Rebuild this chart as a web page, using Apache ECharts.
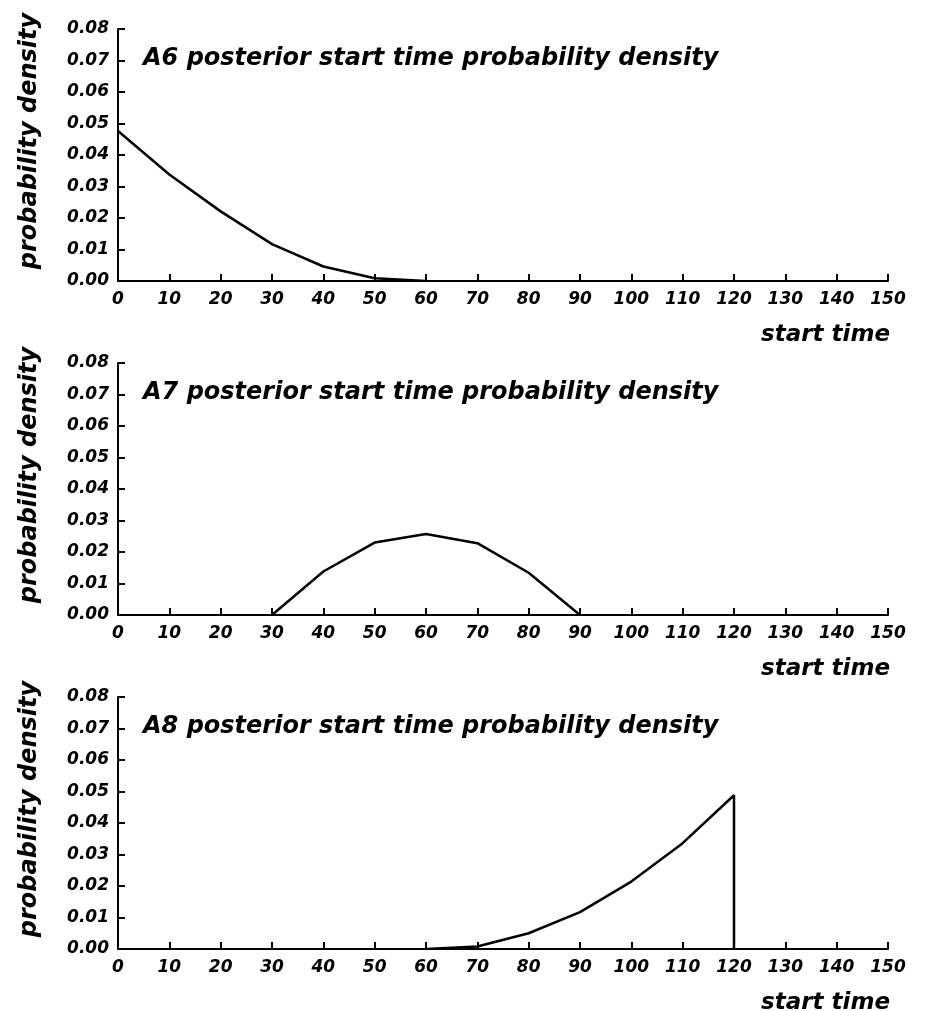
<!DOCTYPE html>
<html><head><meta charset="utf-8">
<script src="https://cdn.jsdelivr.net/npm/echarts@6/dist/echarts.min.js"></script>
<style>html,body{margin:0;padding:0;background:#fff}#c{width:927px;height:1011px}</style>
</head><body><div id="c"></div>
<script>
// Data
const titles = ['A6 posterior start time probability density','A7 posterior start time probability density','A8 posterior start time probability density'];
const a6x = [0, 10, 20, 30, 40, 50, 60];
const a6y = [0.0476, 0.0338, 0.0221, 0.0117, 0.0046, 0.0009, 0.0];
const a7x = [30, 40, 50, 60, 70, 80, 90];
const a7y = [0.0, 0.0138, 0.0230, 0.0257, 0.0228, 0.0134, 0.0];
const a8x = [60, 70, 80, 90, 100, 110, 120, 120];
const a8y = [0.0, 0.0008, 0.0050, 0.0117, 0.0214, 0.0336, 0.0488, 0.0];
const yTicks = ['0.00','0.01','0.02','0.03','0.04','0.05','0.06','0.07','0.08'];
const xLabel = 'start time';
const yLabel = 'probability density';

const font = "'DejaVu Sans', Verdana, sans-serif";
const tops = [29, 363, 697];
const H = 252;
const seriesX = [a6x, a7x, a8x];
const seriesY = [a6y, a7y, a8y];

const grids = [], xAxes = [], yAxes = [], series = [], titleArr = [], graphics = [];
tops.forEach((t, i) => {
  grids.push({left: 118, top: t, width: 770, height: H});
  xAxes.push({
    type: 'value', gridIndex: i, min: 0, max: 150, interval: 10,
    axisLine: {show: true, onZero: false, lineStyle: {color: '#000', width: 2}},
    axisTick: {show: true, inside: true, length: 7, lineStyle: {color: '#000', width: 2}},
    axisLabel: {color: '#000', fontFamily: font, fontSize: 17, fontWeight: 'bold', fontStyle: 'italic', margin: 10},
    splitLine: {show: false}
  });
  yAxes.push({
    type: 'value', gridIndex: i, min: 0, max: 0.08, interval: 0.01,
    axisLine: {show: true, lineStyle: {color: '#000', width: 2}},
    axisTick: {show: true, inside: true, length: 7, lineStyle: {color: '#000', width: 2}},
    axisLabel: {color: '#000', fontFamily: font, fontSize: 17, fontWeight: 'bold', fontStyle: 'italic', margin: 9,
      formatter: (v) => yTicks[Math.round(v * 100)]},
    splitLine: {show: false}
  });
  series.push({
    type: 'line', xAxisIndex: i, yAxisIndex: i, symbol: 'none',
    lineStyle: {color: '#000', width: 2.5},
    data: seriesX[i].map((x, k) => [x, seriesY[i][k]]),
    animation: false
  });
  titleArr.push({
    text: titles[i], left: 138, top: t + 13,
    textStyle: {color: '#000', fontFamily: font, fontSize: 24, fontWeight: 'bold', fontStyle: 'italic'}
  });
  graphics.push({
    type: 'text', x: 30, y: t + 112, rotation: Math.PI / 2,
    style: {text: yLabel, fill: '#000', font: "italic bold 24px " + font, align: 'center', verticalAlign: 'middle'}
  });
  graphics.push({
    type: 'text', x: 890, y: t + H + 54,
    style: {text: xLabel, fill: '#000', font: "italic bold 23px " + font, align: 'right', verticalAlign: 'middle'}
  });
});

const chart = echarts.init(document.getElementById('c'));
chart.setOption({
  backgroundColor: '#fff',
  animation: false,
  title: titleArr,
  grid: grids,
  xAxis: xAxes,
  yAxis: yAxes,
  series: series,
  graphic: graphics
});
</script></body></html>
